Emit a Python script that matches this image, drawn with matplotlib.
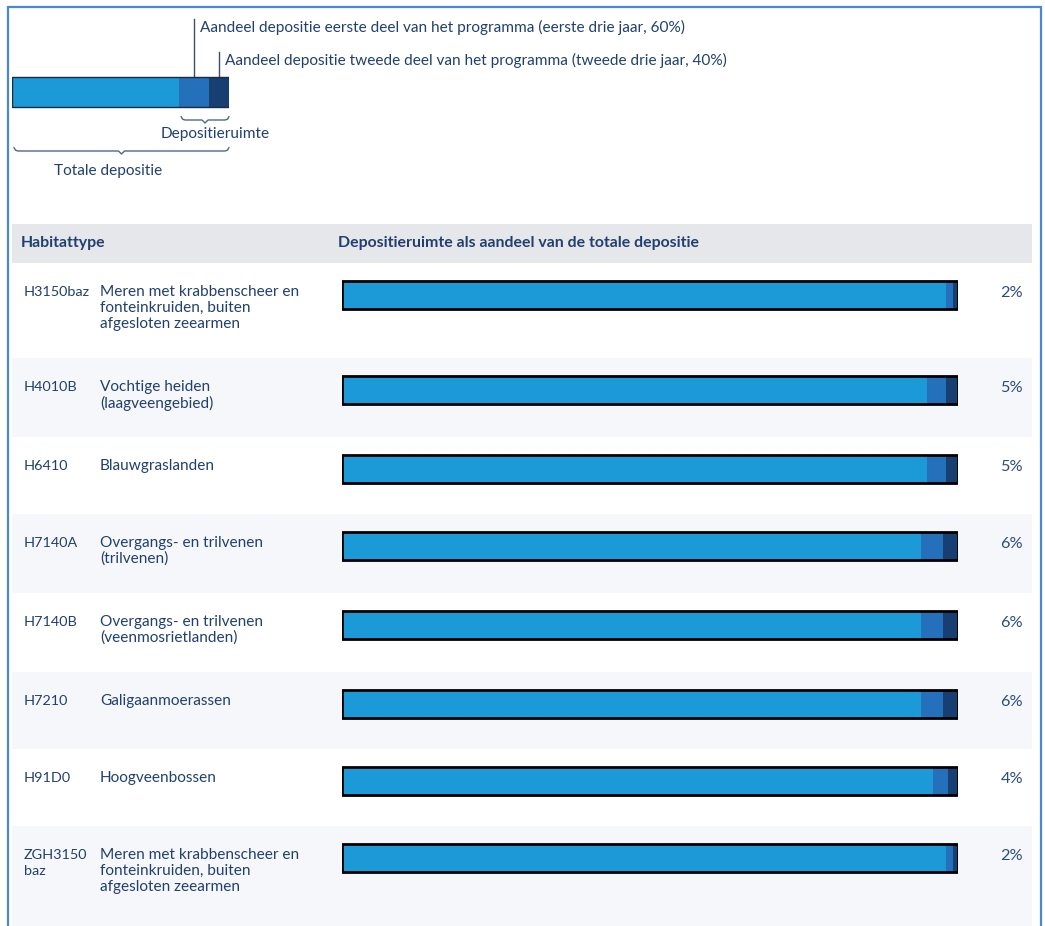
import matplotlib
matplotlib.use("Agg")
import matplotlib.pyplot as plt
from matplotlib.patches import Rectangle

# ---- data ---------------------------------------------------------------
codes = ["H3150baz", "H4010B", "H6410", "H7140A", "H7140B", "H7210", "H91D0",
         "ZGH3150\nbaz"]
names = [
    "Meren met krabbenscheer en\nfonteinkruiden, buiten\nafgesloten zeearmen",
    "Vochtige heiden\n(laagveengebied)",
    "Blauwgraslanden",
    "Overgangs- en trilvenen\n(trilvenen)",
    "Overgangs- en trilvenen\n(veenmosrietlanden)",
    "Galigaanmoerassen",
    "Hoogveenbossen",
    "Meren met krabbenscheer en\nfonteinkruiden, buiten\nafgesloten zeearmen",
]
room_pct = [2, 5, 5, 6, 6, 6, 4, 2]      # depositieruimte as % of total deposition
first_share = 0.60                        # first three years
second_share = 0.40                       # second three years
legend_room_pct = 23                      # schematic example bar

header_left = "Habitattype"
header_right = "Depositieruimte als aandeel van de totale depositie"
note_first = "Aandeel depositie eerste deel van het programma (eerste drie jaar, 60%)"
note_second = "Aandeel depositie tweede deel van het programma (tweede drie jaar, 40%)"

# ---- style --------------------------------------------------------------
W, H = 1045, 926
C_LIGHT = "#1c9ad8"
C_MID = "#2470ba"
C_DARK = "#183f72"
C_TEXT = "#21406f"
C_FRAME = "#4a88d0"
C_HEAD = "#e6e7ea"
C_BAND = "#f6f7fa"
FONT = "Lato"
FS = 11.1
FS_CODE = 10.4
FS_BOLD = 11.4

plt.rcParams["font.family"] = [FONT, "DejaVu Sans"]

fig = plt.figure(figsize=(W / 100, H / 100), dpi=100)
fig.patch.set_facecolor("white")

# background axes in pixel units (text, bands, frame)
ax = fig.add_axes([0, 0, 1, 1])
ax.set_xlim(0, W)
ax.set_ylim(H, 0)
ax.axis("off")

# outer frame (left, top, right)
ax.plot([8, 8, 1041, 1041], [H, 7, 7, H], color=C_FRAME, lw=1.6,
        solid_joinstyle="miter", zorder=5)

# ---- legend bar ---------------------------------------------------------
LX0, LX1 = 12, 229
axl = fig.add_axes([LX0 / W, 0, (LX1 - LX0) / W, 1])
axl.set_xlim(0, 100)
axl.set_ylim(H, 0)
axl.axis("off")
axl.patch.set_visible(False)

ly, lh = 91.5, 30
l_first = legend_room_pct * first_share
l_second = legend_room_pct * second_share
axl.barh(ly, 100 - legend_room_pct, height=lh, left=0, color=C_LIGHT)
axl.barh(ly, l_first, height=lh, left=100 - legend_room_pct, color=C_MID)
axl.barh(ly, l_second, height=lh, left=100 - l_second, color=C_DARK)
axl.barh(ly, 100, height=lh, left=0, fill=False, edgecolor="#1a2a40", lw=1.0)


def lpx(v):
    """Legend data x -> pixel x."""
    return LX0 + v / 100 * (LX1 - LX0)


# pointer lines to the two parts
x_first = lpx(100 - legend_room_pct + l_first / 2)
x_second = lpx(100 - l_second / 2)
ax.plot([x_first, x_first], [19, ly - lh / 2], color="#3a4f6e", lw=1.0)
ax.plot([x_second, x_second], [52, ly - lh / 2], color="#3a4f6e", lw=1.0)
ax.text(x_first + 6, 27, note_first, fontsize=FS, color=C_TEXT, va="center", ha="left")
ax.text(x_second + 6, 60, note_second, fontsize=FS, color=C_TEXT, va="center", ha="left")


def brace(x0, x1, y, color="#50688c"):
    xc = (x0 + x1) / 2
    xs = [x0, x0 + 1.5, x0 + 4, xc - 3, xc, xc + 3, x1 - 4, x1 - 1.5, x1]
    ys = [y - 3.5, y - 0.8, y, y, y + 3, y, y, y - 0.8, y - 3.5]
    ax.plot(xs, ys, color=color, lw=1.0, solid_capstyle="round")


brace(lpx(100 - legend_room_pct) + 2, lpx(100), 120)
ax.text(161, 134, "Depositieruimte", fontsize=FS, color=C_TEXT, va="center", ha="left")
brace(lpx(0) + 2, lpx(100), 151)
ax.text(54, 171, "Totale depositie", fontsize=FS, color=C_TEXT, va="center", ha="left")

# ---- table header -------------------------------------------------------
TX0, TX1 = 12, 1032
ax.add_patch(Rectangle((TX0, 224), TX1 - TX0, 39, facecolor=C_HEAD, edgecolor="none"))
ax.text(21, 243, header_left, fontsize=FS_BOLD, color=C_TEXT, fontweight="bold", va="center")
ax.text(338, 243, header_right, fontsize=FS_BOLD, color=C_TEXT, fontweight="bold", va="center")

# ---- rows ---------------------------------------------------------------
BX0, BX1 = 342, 958
axb = fig.add_axes([BX0 / W, 0, (BX1 - BX0) / W, 1])
axb.set_xlim(0, 100)
axb.set_ylim(H, 0)
axb.axis("off")
axb.patch.set_visible(False)

LINE = 16
top = 263
bar_h = 28
for i, (code, name, p) in enumerate(zip(codes, names, room_pct)):
    n_lines = max(len(name.split("\n")), len(code.split("\n")))
    row_h = max(77, 47 + LINE * n_lines)
    if i == len(codes) - 1:
        row_h = H - top
    if i % 2 == 1:
        ax.add_patch(Rectangle((TX0, top), TX1 - TX0, row_h,
                               facecolor=C_BAND, edgecolor="none", zorder=0))
    text_y = top + 29
    for k, line in enumerate(code.split("\n")):
        ax.text(24, text_y + k * LINE, line, fontsize=FS_CODE, color=C_TEXT, va="center")
    for k, line in enumerate(name.split("\n")):
        ax.text(100, text_y + k * LINE, line, fontsize=FS, color=C_TEXT, va="center")

    yc = top + 32
    first = p * first_share
    second = p * second_share
    axb.barh(yc, 100 - p, height=bar_h, left=0, color=C_LIGHT)
    axb.barh(yc, first, height=bar_h, left=100 - p, color=C_MID)
    axb.barh(yc, second, height=bar_h, left=100 - second, color=C_DARK)
    axb.barh(yc, 100, height=bar_h, left=0, fill=False, edgecolor="black", lw=2.0)

    ax.text(1023, yc - 2, f"{p}%", fontsize=FS + 0.6, color="#2b4b7c",
            va="center", ha="right")
    top += row_h

fig.savefig("out.png", dpi=100, facecolor="white")
